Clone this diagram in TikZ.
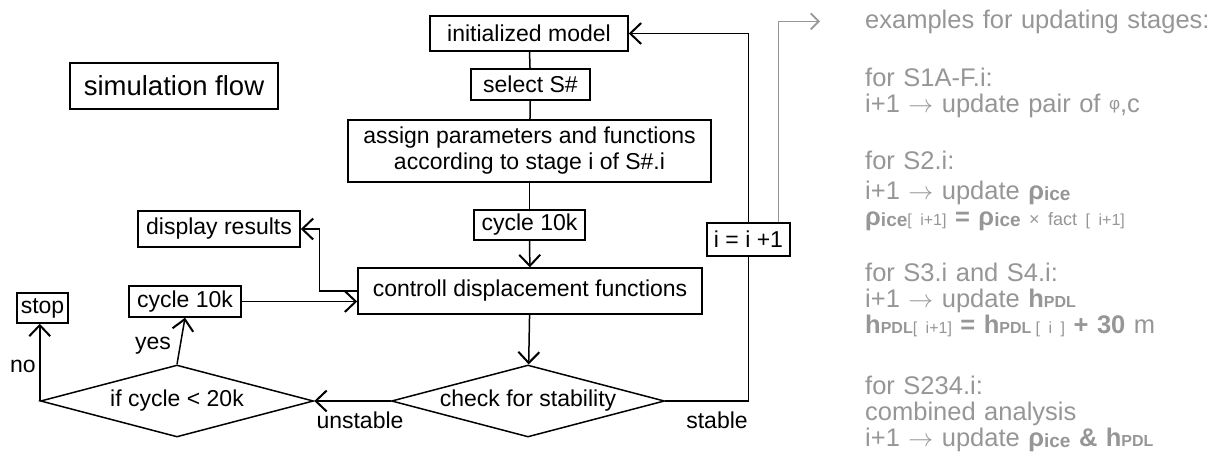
\documentclass[tikz,border=0pt]{standalone}
\usepackage{fontspec}
\setmainfont{Liberation Sans}
\usetikzlibrary{shapes.geometric,arrows.meta,positioning}
\definecolor{notegray}{RGB}{150,150,150}
\newcommand{\rhoice}{\textbf{ρ\raisebox{-1pt}{\fontsize{19}{19}\selectfont ice}}}
\newcommand{\hpdl}{\textbf{h\fontsize{16}{16}\selectfont PDL}}
\newcommand{\idx}[1]{{\fontsize{16}{16}\selectfont[#1]}}
\tikzset{
  box/.style={draw, rectangle, line width=1.5pt, inner sep=0pt, align=center, font=\fontsize{23}{26}\selectfont},
  decision/.style={draw, diamond, aspect=3.8, line width=1.5pt, inner sep=0pt, minimum width=273pt, minimum height=72pt, font=\fontsize{23}{26}\selectfont},
  link/.style={line width=1.5pt},
  flow/.style={line width=1.5pt, -{Straight Barb[length=11pt,width=21pt,line width=2pt]}},
  noteflow/.style={line width=1.4pt, draw=notegray, -{Straight Barb[length=8pt,width=16pt,line width=1.8pt]}},
  lbl/.style={inner sep=0pt, font=\fontsize{23}{26}\selectfont},
  note/.style={text=notegray, anchor=base west, inner sep=0pt, text width=370pt, align=left, font=\fontsize{25.5}{26}\selectfont},
}
\begin{document}
\begin{tikzpicture}[x=1pt, y=-1pt]
  \useasboundingbox (0,0) rectangle (1229,461);
  % main column
  \node[box, minimum width=198pt, minimum height=35pt] (init) at (529,33.5) {initialized model};
  \node[box, minimum width=119pt, minimum height=31pt] (select) at (530.5,84.5) {select S\#};
  \node[box, minimum width=363pt, minimum height=62pt] (assign) at (529.5,151) {assign parameters and functions\\according to stage i of S\#.i};
  \node[box, minimum width=111pt, minimum height=30pt] (cyc1) at (529.5,225) {cycle 10k};
  \node[box, minimum width=344pt, minimum height=46pt] (ctrl) at (530,291) {controll displacement functions};
  \node[decision] (check) at (528,401) {check for stability};
  \node[box, minimum width=83pt, minimum height=33pt] (incr) at (748.5,239.5) {i = i +1};
  % left side
  \node[box, minimum width=208pt, minimum height=46pt, font=\fontsize{27.5}{30}\selectfont] (simflow) at (174,86) {simulation flow};
  \node[box, minimum width=162pt, minimum height=36pt] (disp) at (219,229) {display results};
  \node[box, minimum width=112pt, minimum height=31pt] (cyc2) at (185,301.5) {cycle 10k};
  \node[box, minimum width=51pt, minimum height=30pt] (stop) at (42.5,308) {stop};
  \node[decision] (ifc) at (177,401) {if cycle < 20k};
  % labels
  \node[lbl] (yes) at (153,346) {yes};
  \node[lbl] (no) at (23,366) {no};
  \node[lbl] (unst) at (360,420) {unstable};
  \node[lbl] (stab) at (717,420) {stable};
  % notes
  \node[note] (ex) at (865,28) {examples for updating stages:};
  \node[note] (s1) at (865,86) {for S1A-F.i:\\i+1 $\rightarrow$ update pair of \raisebox{3pt}{\fontsize{17}{17}\selectfont φ},c};
  \node[note] (s2) at (865,169) {for S2.i:\\[4pt]i+1 $\rightarrow$ update \rhoice\\\rhoice\idx{ i+1} \textbf{=} \rhoice\ {\fontsize{18}{18}\selectfont × fact} \idx{ i+1}};
  \node[note] (s3) at (865,281) {for S3.i and S4.i:\\i+1 $\rightarrow$ update \hpdl\\\hpdl\idx{ i+1} \textbf{=} \hpdl\,\idx{ i } \textbf{+ 30} m};
  \node[note] (s4) at (865,394) {for S234.i:\\combined analysis\\i+1 $\rightarrow$ update \rhoice\ \textbf{\&} \hpdl};
  % connectors
  \draw[link] (init) -- (select);
  \draw[link] (select) -- (assign);
  \draw[link] (assign) -- (cyc1);
  \draw[flow] (cyc1) -- (ctrl);
  \draw[flow] (ctrl) -- (check);
  \draw[link] (check.east) -| (incr.south);
  \draw[flow] (incr.north) |- (init.east);
  \draw[noteflow, shorten >=45pt] ([xshift=-12pt]incr.north east) |- (ex.west);
  \draw[flow] (ctrl.west) -- ++(-38,0) |- (disp.east);
  \draw[flow] (cyc2.east) -- (cyc2.east -| ctrl.west);
  \draw[flow] (check.west) -- (ifc.east);
  \draw[flow] (ifc.north) -- (cyc2.south);
  \draw[flow] (ifc.west) -- (ifc.west |- stop.south);
\end{tikzpicture}
\end{document}
